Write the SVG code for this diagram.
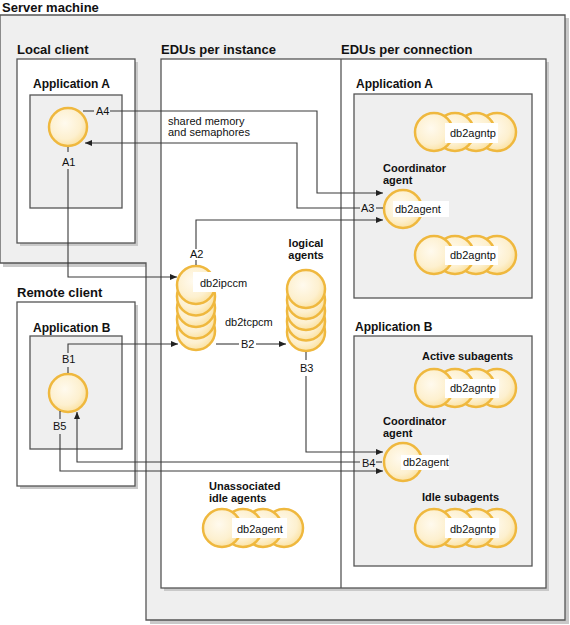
<svg xmlns="http://www.w3.org/2000/svg" width="570" height="625" viewBox="0 0 570 625">
<defs>
<radialGradient id="cg" cx="0.42" cy="0.4" r="0.6">
<stop offset="0" stop-color="#fffaee"/>
<stop offset="0.7" stop-color="#fdf0cf"/>
<stop offset="1" stop-color="#fbe3a6"/>
</radialGradient>
<marker id="ar" markerWidth="7" markerHeight="6" refX="7" refY="3" orient="auto" markerUnits="userSpaceOnUse">
<path d="M0,0 L7,3 L0,6 z" fill="#222"/>
</marker>
<circle id="c" r="19" fill="url(#cg)" stroke="#efb83e" stroke-width="2.5"/>
</defs>
<style>
.box{stroke:#555;stroke-width:1.3}
.sh{fill:#c9c9c9}
.hd{font-family:"Liberation Sans",Arial,sans-serif;font-weight:bold;font-size:13px;fill:#111}
.ap{font-family:"Liberation Sans",Arial,sans-serif;font-weight:bold;font-size:12px;fill:#111}
.lb{font-family:"Liberation Sans",Arial,sans-serif;font-weight:bold;font-size:11px;fill:#111}
.tx{font-family:"Liberation Sans",Arial,sans-serif;font-size:11px;fill:#111}
.wb{fill:#fff}
.ln{fill:none;stroke:#3a3a3a;stroke-width:1.1}
</style>
<rect width="570" height="625" fill="#fff"/>

<g id="server-machine">
<polygon class="sh" points="3,18 569,18 569,624 150,624 150,267 3,267"/>
<polygon class="box" fill="#efefef" points="0,15 565,15 565,620 146,620 146,263 0,263"/>
<text class="hd" x="2" y="12">Server machine</text>
</g>

<g id="local-client">
<rect class="sh" x="20" y="62" width="118" height="184"/>
<rect class="box" fill="#fff" x="17" y="59" width="118" height="184"/>
<text class="hd" x="17" y="54">Local client</text>
<rect class="box" fill="#efefef" x="30" y="95" width="92" height="113"/>
<text class="ap" x="33" y="88">Application A</text>
<use href="#c" x="68" y="127"/>
</g>

<g id="remote-client">
<rect class="sh" x="20" y="305" width="118" height="184"/>
<rect class="box" fill="#fff" x="17" y="302" width="118" height="184"/>
<text class="hd" x="17" y="297">Remote client</text>
<rect class="box" fill="#efefef" x="30" y="336" width="92" height="113"/>
<text class="ap" x="33" y="332">Application B</text>
<use href="#c" x="68" y="393"/>
</g>

<g id="edu-boxes">
<rect class="sh" x="164" y="62" width="385" height="529"/>
<rect class="box" fill="#fff" x="161" y="59" width="385" height="529"/>
<line class="box" x1="341" y1="59" x2="341" y2="588"/>
<text class="hd" x="161" y="54">EDUs per instance</text>
<text class="hd" x="341" y="54">EDUs per connection</text>
</g>

<g id="app-a-conn">
<rect class="box" fill="#efefef" x="354" y="94" width="178" height="204"/>
<text class="ap" x="356" y="88">Application A</text>
</g>

<g id="app-b-conn">
<rect class="box" fill="#efefef" x="354" y="336" width="178" height="230"/>
<text class="ap" x="355" y="331">Application B</text>
</g>

<g id="agntp-a1">
<use href="#c" x="497" y="132"/><use href="#c" x="476" y="132"/><use href="#c" x="455" y="132"/><use href="#c" x="434" y="132"/>
<rect class="wb" x="445" y="123" width="53" height="20"/>
<text class="tx" x="450" y="137">db2agntp</text>
</g>

<g id="coord-a">
<text class="lb" x="383" y="172">Coordinator</text>
<text class="lb" x="383" y="184">agent</text>
<use href="#c" x="403" y="209"/>
<rect class="wb" x="393" y="201" width="56" height="16"/>
<text class="tx" x="395" y="213">db2agent</text>
</g>

<g id="agntp-a2">
<use href="#c" x="497" y="255"/><use href="#c" x="476" y="255"/><use href="#c" x="455" y="255"/><use href="#c" x="434" y="255"/>
<rect class="wb" x="445" y="246" width="53" height="19"/>
<text class="tx" x="450" y="259">db2agntp</text>
</g>

<g id="active-subagents">
<text class="lb" x="422" y="360">Active subagents</text>
<use href="#c" x="497" y="388"/><use href="#c" x="476" y="388"/><use href="#c" x="455" y="388"/><use href="#c" x="434" y="388"/>
<rect class="wb" x="445" y="379" width="54" height="19"/>
<text class="tx" x="450" y="392">db2agntp</text>
</g>

<g id="coord-b">
<text class="lb" x="383" y="425">Coordinator</text>
<text class="lb" x="383" y="437">agent</text>
<use href="#c" x="403" y="462"/>
<rect class="wb" x="401" y="455" width="48" height="15"/>
<text class="tx" x="403" y="466">db2agent</text>
</g>

<g id="idle-subagents">
<text class="lb" x="422" y="501">Idle subagents</text>
<use href="#c" x="497" y="528"/><use href="#c" x="476" y="528"/><use href="#c" x="455" y="528"/><use href="#c" x="434" y="528"/>
<rect class="wb" x="445" y="518" width="54" height="20"/>
<text class="tx" x="450" y="533">db2agntp</text>
</g>

<g id="unassociated">
<text class="lb" x="209" y="490">Unassociated</text>
<text class="lb" x="209" y="502">idle agents</text>
<use href="#c" x="284" y="528"/><use href="#c" x="263" y="528"/><use href="#c" x="243" y="528"/><use href="#c" x="222" y="528"/>
<rect class="wb" x="232" y="518" width="55" height="20"/>
<text class="tx" x="237" y="533">db2agent</text>
</g>

<g id="listeners">
<use href="#c" x="196" y="331"/><use href="#c" x="196" y="319.5"/><use href="#c" x="196" y="308"/><use href="#c" x="196" y="296.5"/><use href="#c" x="196" y="285"/>
<rect class="wb" x="193" y="272" width="54" height="20"/>
<text class="tx" x="200" y="287">db2ipccm</text>
<text class="tx" x="225" y="326">db2tcpcm</text>
</g>

<g id="logical-agents">
<text class="lb" x="306" y="247" text-anchor="middle">logical</text>
<text class="lb" x="306" y="259" text-anchor="middle">agents</text>
<use href="#c" x="306" y="332"/><use href="#c" x="306" y="321.5"/><use href="#c" x="306" y="311"/><use href="#c" x="306" y="300"/><use href="#c" x="306" y="289"/>
</g>

<g id="connectors">
<text class="tx" x="168" y="125">shared memory</text>
<text class="tx" x="168" y="136">and semaphores</text>
<path class="ln" d="M83,111 H94"/>
<text class="tx" x="96" y="115">A4</text>
<path class="ln" d="M110,111 H317 V193 H383" marker-end="url(#ar)"/>
<path class="ln" d="M360,208 H297 V143 H85" marker-end="url(#ar)"/>
<text class="tx" x="361" y="212">A3</text>
<path class="ln" d="M376,208 H383"/>
<path class="ln" d="M196,249 V220 H383" marker-end="url(#ar)"/>
<text class="tx" x="190" y="258">A2</text>
<path class="ln" d="M196,260 V265"/>
<path class="ln" d="M68,147 V152"/>
<text class="tx" x="62" y="166">A1</text>
<path class="ln" d="M68,169 V277 H177" marker-end="url(#ar)"/>
<path class="ln" d="M68,373 V367"/>
<text class="tx" x="62" y="363">B1</text>
<path class="ln" d="M68,353 V344 H178" marker-end="url(#ar)"/>
<path class="ln" d="M216,344 H239"/>
<text class="tx" x="241" y="348">B2</text>
<path class="ln" d="M256,344 H286" marker-end="url(#ar)"/>
<path class="ln" d="M306,352 V360"/>
<text class="tx" x="300" y="372">B3</text>
<path class="ln" d="M306,376 V452 H383" marker-end="url(#ar)"/>
<text class="tx" x="362" y="467">B4</text>
<path class="ln" d="M376,462 H382"/>
<path class="ln" d="M360,462 H77 V412" marker-end="url(#ar)"/>
<path class="ln" d="M60,411 V419"/>
<text class="tx" x="53" y="430">B5</text>
<path class="ln" d="M60,434 V471 H383" marker-end="url(#ar)"/>
</g>
</svg>
